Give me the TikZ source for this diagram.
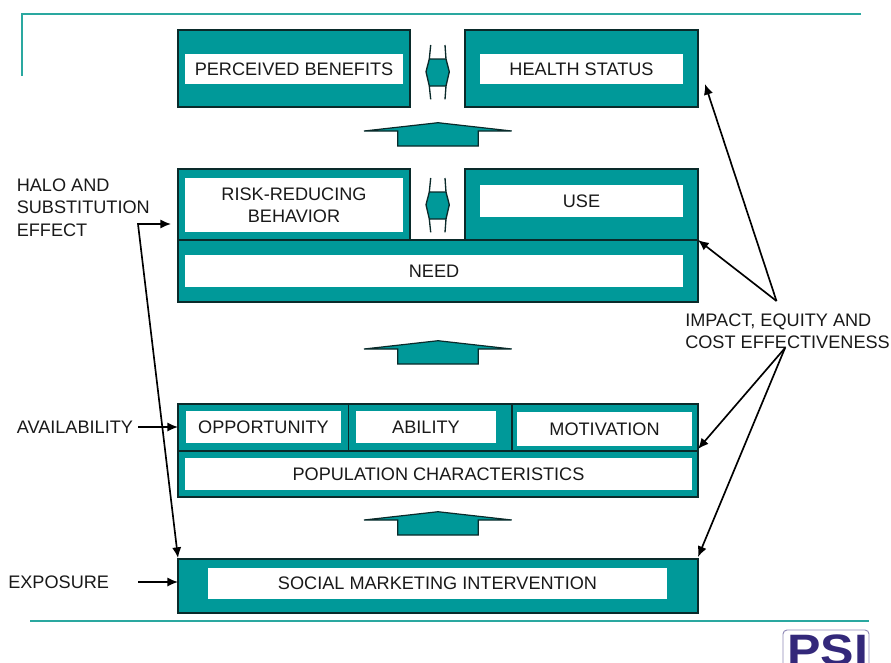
\documentclass[tikz,border=0pt]{standalone}
\usepackage{fontspec}
\setmainfont{Liberation Sans}
\usetikzlibrary{arrows.meta}
\definecolor{tealfill}{HTML}{009999}
\definecolor{ruleteal}{HTML}{2AA8A0}
\definecolor{edgedark}{HTML}{0A2A2A}
\definecolor{logoblue}{HTML}{33287A}
\tikzset{
  x=0.75pt,y=-0.75pt,
  lbl/.style={inner sep=0pt,font=\fontsize{13.6}{16.5}\selectfont,text=black!90,align=center},
  sidelbl/.style={lbl,anchor=west,align=left},
  tealbox/.style={draw=edgedark,line width=0.8pt,fill=tealfill,inner sep=0pt,outer sep=0pt},
  whitebox/.style={fill=white,inner sep=0pt,outer sep=0pt,lbl},
  updn/.style={draw=edgedark,line width=0.9pt,fill=tealfill,line join=miter},
  conn/.style={draw=black,line width=1.25pt,-{Latex[length=8pt,width=7pt]}},
  both/.style={draw=black,line width=1.25pt,{Latex[length=8pt,width=7pt]}-{Latex[length=8pt,width=7pt]}},
  rulestyle/.style={draw=ruleteal,line width=1pt}
}
% name, x0, y0, x1, y1, style, text
\newcommand{\pxbox}[7]{%
  \pgfmathsetmacro{\pxw}{(#4-#2)*0.75}%
  \pgfmathsetmacro{\pxh}{(#5-#3)*0.75}%
  \node[#6,minimum width=\pxw pt,minimum height=\pxh pt] (#1) at ({(#2+#4)/2},{(#3+#5)/2}) {#7};}
% up arrow, by vertical offset
\newcommand{\uparr}[1]{%
  \draw[updn] (438,122.7+#1) -- (511.7,131+#1) -- (478.3,131+#1) -- (478.3,146+#1)
    -- (397.7,146+#1) -- (397.7,131+#1) -- (364,131+#1) -- cycle;}
% double arrow, by vertical offset
\newcommand{\dblarr}[1]{%
  \fill[tealfill] (429.3,59+#1) -- (446,59+#1) -- (449.3,71.7+#1) -- (446,86+#1)
    -- (429.3,86+#1) -- (426,71.7+#1) -- cycle;
  \draw[edgedark,line width=1pt,line join=miter]
    (430.7,45+#1) -- (429.3,59+#1) -- (426,71.7+#1) -- (429.3,86+#1) -- (430.7,99.3+#1)
    (445,45+#1) -- (446,59+#1) -- (449.3,71.7+#1) -- (446,86+#1) -- (445,99.3+#1)
    (429.3,59+#1) -- (446,59+#1) (429.3,86+#1) -- (446,86+#1);}
\begin{document}
\begin{tikzpicture}
\useasboundingbox (0,0) rectangle (891,662);
% rules
\coordinate (ra) at (861,14); \coordinate (rb) at (22,14); \coordinate (rc) at (22,76);
\draw[rulestyle] (ra) -- (rb) -- (rc);
\coordinate (rd) at (30,621); \coordinate (re) at (869,621);
\draw[rulestyle] (rd) -- (re);
% top row
\pxbox{pbbg}{178}{30}{410}{107}{tealbox}{}
\pxbox{pb}{185}{54}{403}{84}{whitebox}{PERCEIVED BENEFITS}
\pxbox{hsbg}{465}{30}{698}{107}{tealbox}{}
\pxbox{hs}{480}{54}{683}{84}{whitebox}{HEALTH STATUS}
\dblarr{0}
\uparr{0}
% second row
\pxbox{rrbg}{178}{169}{410}{240}{tealbox}{}
\pxbox{rr}{185}{178}{403}{232}{whitebox}{RISK-REDUCING\\[0.2pt]BEHAVIOR}
\pxbox{usebg}{465}{169}{698}{240}{tealbox}{}
\pxbox{use}{480}{185}{683}{217}{whitebox}{\raisebox{-0.6pt}{USE}}
\pxbox{needbg}{178}{240}{698}{302}{tealbox}{}
\pxbox{need}{185}{255}{683}{287}{whitebox}{\raisebox{-0.6pt}{NEED}}
\dblarr{133}
\uparr{218}
% third block
\pxbox{oppbg}{178}{404}{348.5}{451}{tealbox}{}
\pxbox{opp}{186}{411}{341}{443}{whitebox}{OPPORTUNITY}
\pxbox{abibg}{348.5}{404}{512}{451}{tealbox}{}
\pxbox{abi}{356}{411}{496}{443}{whitebox}{ABILITY}
\pxbox{motbg}{512}{404}{698}{451}{tealbox}{}
\pxbox{mot}{517}{412}{692}{446}{whitebox}{MOTIVATION}
\pxbox{popbg}{178}{451}{698}{497}{tealbox}{}
\pxbox{pop}{185}{458}{692}{490}{whitebox}{POPULATION CHARACTERISTICS}
\uparr{389}
% intervention
\pxbox{smibg}{178}{559}{698}{613}{tealbox}{}
\pxbox{smi}{208}{568}{667}{599}{whitebox}{\raisebox{-2.4pt}{SOCIAL MARKETING INTERVENTION}}
% side labels
\node[sidelbl] (halo) at (16.5,207.5) {HALO AND\\[0.2pt]SUBSTITUTION\\[0.2pt]EFFECT};
\node[sidelbl] (avail) at (16.5,427) {AVAILABILITY};
\node[sidelbl] (expo) at (8,582.7) {EXPOSURE};
\node[sidelbl] (impact) at (685,331) {IMPACT, EQUITY AND\\[0.2pt]COST EFFECTIVENESS};
% connectors
\coordinate (hk) at (138,224);
\coordinate (ha) at (171,224);
\coordinate (hb) at (178,558);
\draw[both] (hb) -- (hk) -- (ha);
\coordinate (av) at (138,427);
\coordinate (ex) at (138,582);
\draw[conn] (av) -- (178,427);
\draw[conn] (ex) -- (178,582);
\coordinate (ap1) at (776.5,301);
\coordinate (ap2) at (785,348);
\draw[conn] (ap1) -- (705,84);
\draw[conn] (ap1) -- (698,240);
\draw[conn] (ap2) -- (698,449);
\draw[conn] (ap2) -- (698,557);
% logo
\begin{scope}
\clip (775,625) rectangle (891,662);
\draw[logoblue!55,line width=0.7pt,rounded corners=3pt] (783,672) -- (783,630) -- (869,630) -- (869,672);
\node[inner sep=0pt,anchor=north,text=logoblue,font=\fontsize{33}{33}\selectfont\bfseries] (logo) at (827.5,634) {\scalebox{1.14}[1]{PSI}};
\end{scope}
\end{tikzpicture}
\end{document}
